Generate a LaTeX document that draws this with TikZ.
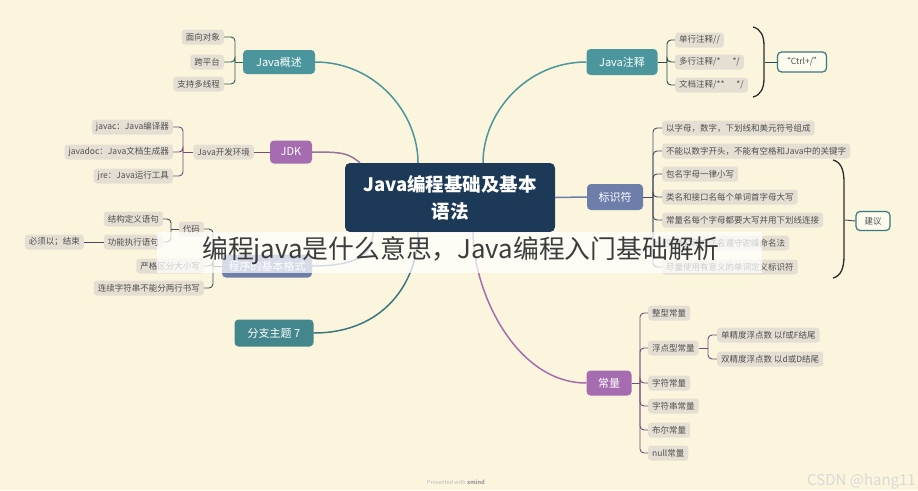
\documentclass[tikz,border=0pt]{standalone}
\usepackage{fontspec}
\setmainfont{Noto Sans CJK SC}
\definecolor{bg}{RGB}{251,245,222}
\definecolor{cteal}{RGB}{74,150,156}
\definecolor{cpurple}{RGB}{165,108,175}
\definecolor{cslate}{RGB}{110,126,170}
\definecolor{cnavy}{RGB}{28,58,88}
\definecolor{subfill}{RGB}{229,223,211}
\definecolor{subtext}{RGB}{80,80,80}
\definecolor{parenc}{RGB}{45,45,45}
\tikzset{
  mainbox/.style={rounded corners=4pt, text=white, inner sep=0pt, font=\fontsize{11}{13}\selectfont},
  subbox/.style={fill=subfill, rounded corners=3pt, inner xsep=4pt, inner ysep=0pt, minimum height=15pt, text=subtext, font=\fontsize{8.5}{10}\selectfont},
  notebox/.style={draw=cteal!80!black, line width=1.2pt, fill=bg!50!white, rounded corners=4pt, inner sep=0pt, text=subtext, font=\fontsize{8.5}{10}\selectfont},
  mline/.style={line width=1.5pt},
  bline/.style={line width=0.9pt, rounded corners=4pt},
  paren/.style={line width=1.3pt, draw=parenc}
}
\begin{document}
\begin{tikzpicture}[x=1pt,y=-1pt]
\fill[bg] (0,0) rectangle (918,490);
\useasboundingbox (0,0) rectangle (918,490);

% root
\node[fill=cnavy, rounded corners=5pt, minimum width=210pt, minimum height=69pt, inner sep=0pt, text=white, align=center, font=\bfseries\fontsize{18.5}{27}\selectfont] (root) at (450,197.5) {Java编程基础及基本\\语法};

% ---------- Java概述 ----------
\node[mainbox, fill=cteal, minimum width=72pt, minimum height=24pt] (gs) at (279,62) {Java概述};
\node[subbox, anchor=east] (gs1) at (224,37) {面向对象};
\node[subbox, anchor=east] (gs2) at (224,62) {跨平台};
\node[subbox, anchor=east] (gs3) at (224,84) {支持多线程};
\coordinate (gj) at (235,62);
\draw[bline, cteal!60!black] (gs.west) -- (gj);
\foreach \c in {gs1,gs2,gs3} \draw[bline, cteal!60!black] (gj) |- (\c.east);
\draw[mline, cteal] (gs.east) .. controls +(60,0) and +(0,-50) .. ([xshift=-32pt]root.north);

% ---------- JDK ----------
\node[mainbox, fill=cpurple, minimum width=42pt, minimum height=23pt] (jdk) at (291,152) {JDK};
\node[subbox, anchor=east] (env) at (254,152) {Java开发环境};
\node[subbox, anchor=east] (jc) at (173,127) {javac：Java编译器};
\node[subbox, anchor=east] (jd) at (173,152) {javadoc：Java文档生成器};
\node[subbox, anchor=east] (jr) at (173,176) {jre：Java运行工具};
\coordinate (jj) at (183,152);
\draw[bline, cpurple!70!black] (jdk.west) -- (env.east);
\draw[bline, cpurple!70!black] (env.west) -- (jj);
\foreach \c in {jc,jd,jr} \draw[bline, cpurple!70!black] (jj) |- (\c.east);
\draw[mline, cpurple!60!gray] (jdk.east) .. controls +(30,0) and +(-12,-10) .. ([xshift=-90pt]root.north);

% ---------- 程序的基本格式 ----------
\node[mainbox, fill=cslate, minimum width=90pt, minimum height=23pt] (fmt) at (267,266) {程序的基本格式};
\node[subbox, anchor=east] (code) at (204,229) {代码};
\node[subbox, anchor=east] (case) at (204,266) {严格区分大小写};
\node[subbox, anchor=east] (str) at (204,288) {连续字符串不能分两行书写};
\coordinate (fj) at (213,266);
\draw[bline, cslate!60!black] (fmt.west) -- (fj);
\foreach \c in {code,case,str} \draw[bline, cslate!60!black] (fj) |- (\c.east);
\node[subbox, anchor=east] (c1) at (163,219) {结构定义语句};
\node[subbox, anchor=east] (c2) at (163,242) {功能执行语句};
\node[subbox, anchor=east] (c3) at (84,242) {必须以；结束};
\coordinate (cj) at (171,229);
\draw[bline, cslate!60!black] (code.west) -- (cj);
\foreach \c in {c1,c2} \draw[bline, cslate!60!black] (cj) |- (\c.east);
\draw[bline, cslate!60!black] (c2.west) -- (c3.east);
\draw[mline, cslate] (fmt.east) .. controls +(40,0) and +(0,25) .. ([xshift=-77pt]root.south);

% ---------- 分支主题 7 ----------
\node[mainbox, fill=cteal!90!black, minimum width=79pt, minimum height=27pt] (b7) at (274,333) {分支主题 7};
\draw[mline, cteal!80!black] (b7.east) .. controls +(70,0) and +(0,50) .. ([xshift=-32pt]root.south);

% ---------- Java注释 ----------
\node[mainbox, fill=cteal, minimum width=71pt, minimum height=26pt] (zs) at (622,62) {Java注释};
\node[subbox, anchor=west] (z1) at (675,40) {单行注释//};
\node[subbox, anchor=west] (z2) at (675,62) {多行注释/*\hspace{12pt}*/};
\node[subbox, anchor=west] (z3) at (675,85) {文档注释/**\hspace{12pt}*/};
\coordinate (zj) at (667,62);
\draw[bline, cteal!50!black] (zs.east) -- (zj);
\foreach \c in {z1,z2,z3} \draw[bline, cteal!50!black] (zj) |- (\c.west);
\draw[paren] (753,27) .. controls (761,29) and (764,36) .. (764,46) -- (764,78) .. controls (764,88) and (761,95) .. (753,97);
\node[notebox, minimum width=49pt, minimum height=20pt] (ctrl) at (802,62) {“Ctrl+/”};
\coordinate (zp) at (765,62);
\draw[bline, cteal!50!black] (zp) -- (ctrl.west);
\draw[mline, cteal] (zs.west) .. controls +(-60,0) and +(0,-50) .. ([xshift=33pt]root.north);

% ---------- 标识符 ----------
\node[mainbox, fill=cslate, minimum width=56pt, minimum height=26pt] (bs) at (615,197) {标识符};
\node[subbox, anchor=west] (b1) at (662,128) {以字母，数字，下划线和美元符号组成};
\node[subbox, anchor=west] (b2) at (662,151) {不能以数字开头，不能有空格和Java中的关键字};
\node[subbox, anchor=west] (b3) at (662,174) {包名字母一律小写};
\node[subbox, anchor=west] (b4) at (662,197) {类名和接口名每个单词首字母大写};
\node[subbox, anchor=west] (b5) at (662,220) {常量名每个字母都要大写并用下划线连接};
\node[subbox, anchor=west] (b6) at (662,243) {变量名和方法名遵守驼峰命名法};
\node[subbox, anchor=west] (b7s) at (662,267) {尽量使用有意义的单词定义标识符};
\coordinate (bj) at (653,197);
\draw[bline, cslate!60!black] (bs.east) -- (bj);
\foreach \c in {b1,b2,b3,b4,b5,b6,b7s} \draw[bline, cslate!60!black] (bj) |- (\c.west);
\draw[paren] (833,160) .. controls (841,162) and (844,170) .. (844,182) -- (844,256) .. controls (844,268) and (841,276) .. (833,278);
\node[notebox, minimum width=34pt, minimum height=19pt] (jy) at (873,221) {建议};
\coordinate (bp) at (845,220);
\draw[bline, cslate!60!black] (bp) -- (jy.west);
\draw[mline, cslate] (root.east) -- (bs.west);

% ---------- 常量 ----------
\node[mainbox, fill=cpurple, minimum width=45pt, minimum height=25pt] (cl) at (609,383) {常量};
\node[subbox, anchor=west] (k1) at (648,313) {整型常量};
\node[subbox, anchor=west] (k2) at (648,348) {浮点型常量};
\node[subbox, anchor=west] (k3) at (648,383) {字符常量};
\node[subbox, anchor=west] (k4) at (648,406) {字符串常量};
\node[subbox, anchor=west] (k5) at (648,430) {布尔常量};
\node[subbox, anchor=west] (k6) at (648,453) {null常量};
\coordinate (clj) at (640,383);
\draw[bline, cpurple!70!black] (cl.east) -- (clj);
\foreach \c in {k1,k2,k3,k4,k5,k6} \draw[bline, cpurple!70!black] (clj) |- (\c.west);
\node[subbox, anchor=west] (f1) at (717,335) {单精度浮点数 以f或F结尾};
\node[subbox, anchor=west] (f2) at (717,359) {双精度浮点数 以d或D结尾};
\coordinate (fj2) at (708,348);
\draw[bline, cpurple!70!black] (k2.east) -- (fj2);
\foreach \c in {f1,f2} \draw[bline, cpurple!70!black] (fj2) |- (\c.west);
\draw[mline, cpurple] (cl.west) .. controls +(-70,0) and +(0,60) .. ([xshift=23pt]root.south);

% ---------- overlay title ----------
\fill[white, opacity=0.72] (157,232) rectangle (762,273);
\node[anchor=west, inner sep=0pt, text={rgb,255:red,60;green,60;blue,60}, font=\fontsize{25.8}{28}\selectfont] (title) at (202,251) {编程java是什么意思，Java编程入门基础解析};

% ---------- footer ----------
\node[inner sep=0pt, text=gray!55, font=\fontsize{5.5}{7}\selectfont] (pw) at (456,482) {Presented with \textbf{\color{gray!80}xmind}};
\node[anchor=east, inner sep=0pt, text=gray!30, font=\fontsize{15}{17}\selectfont] (csdn) at (916,481) {CSDN @hang11};
\end{tikzpicture}
\end{document}
